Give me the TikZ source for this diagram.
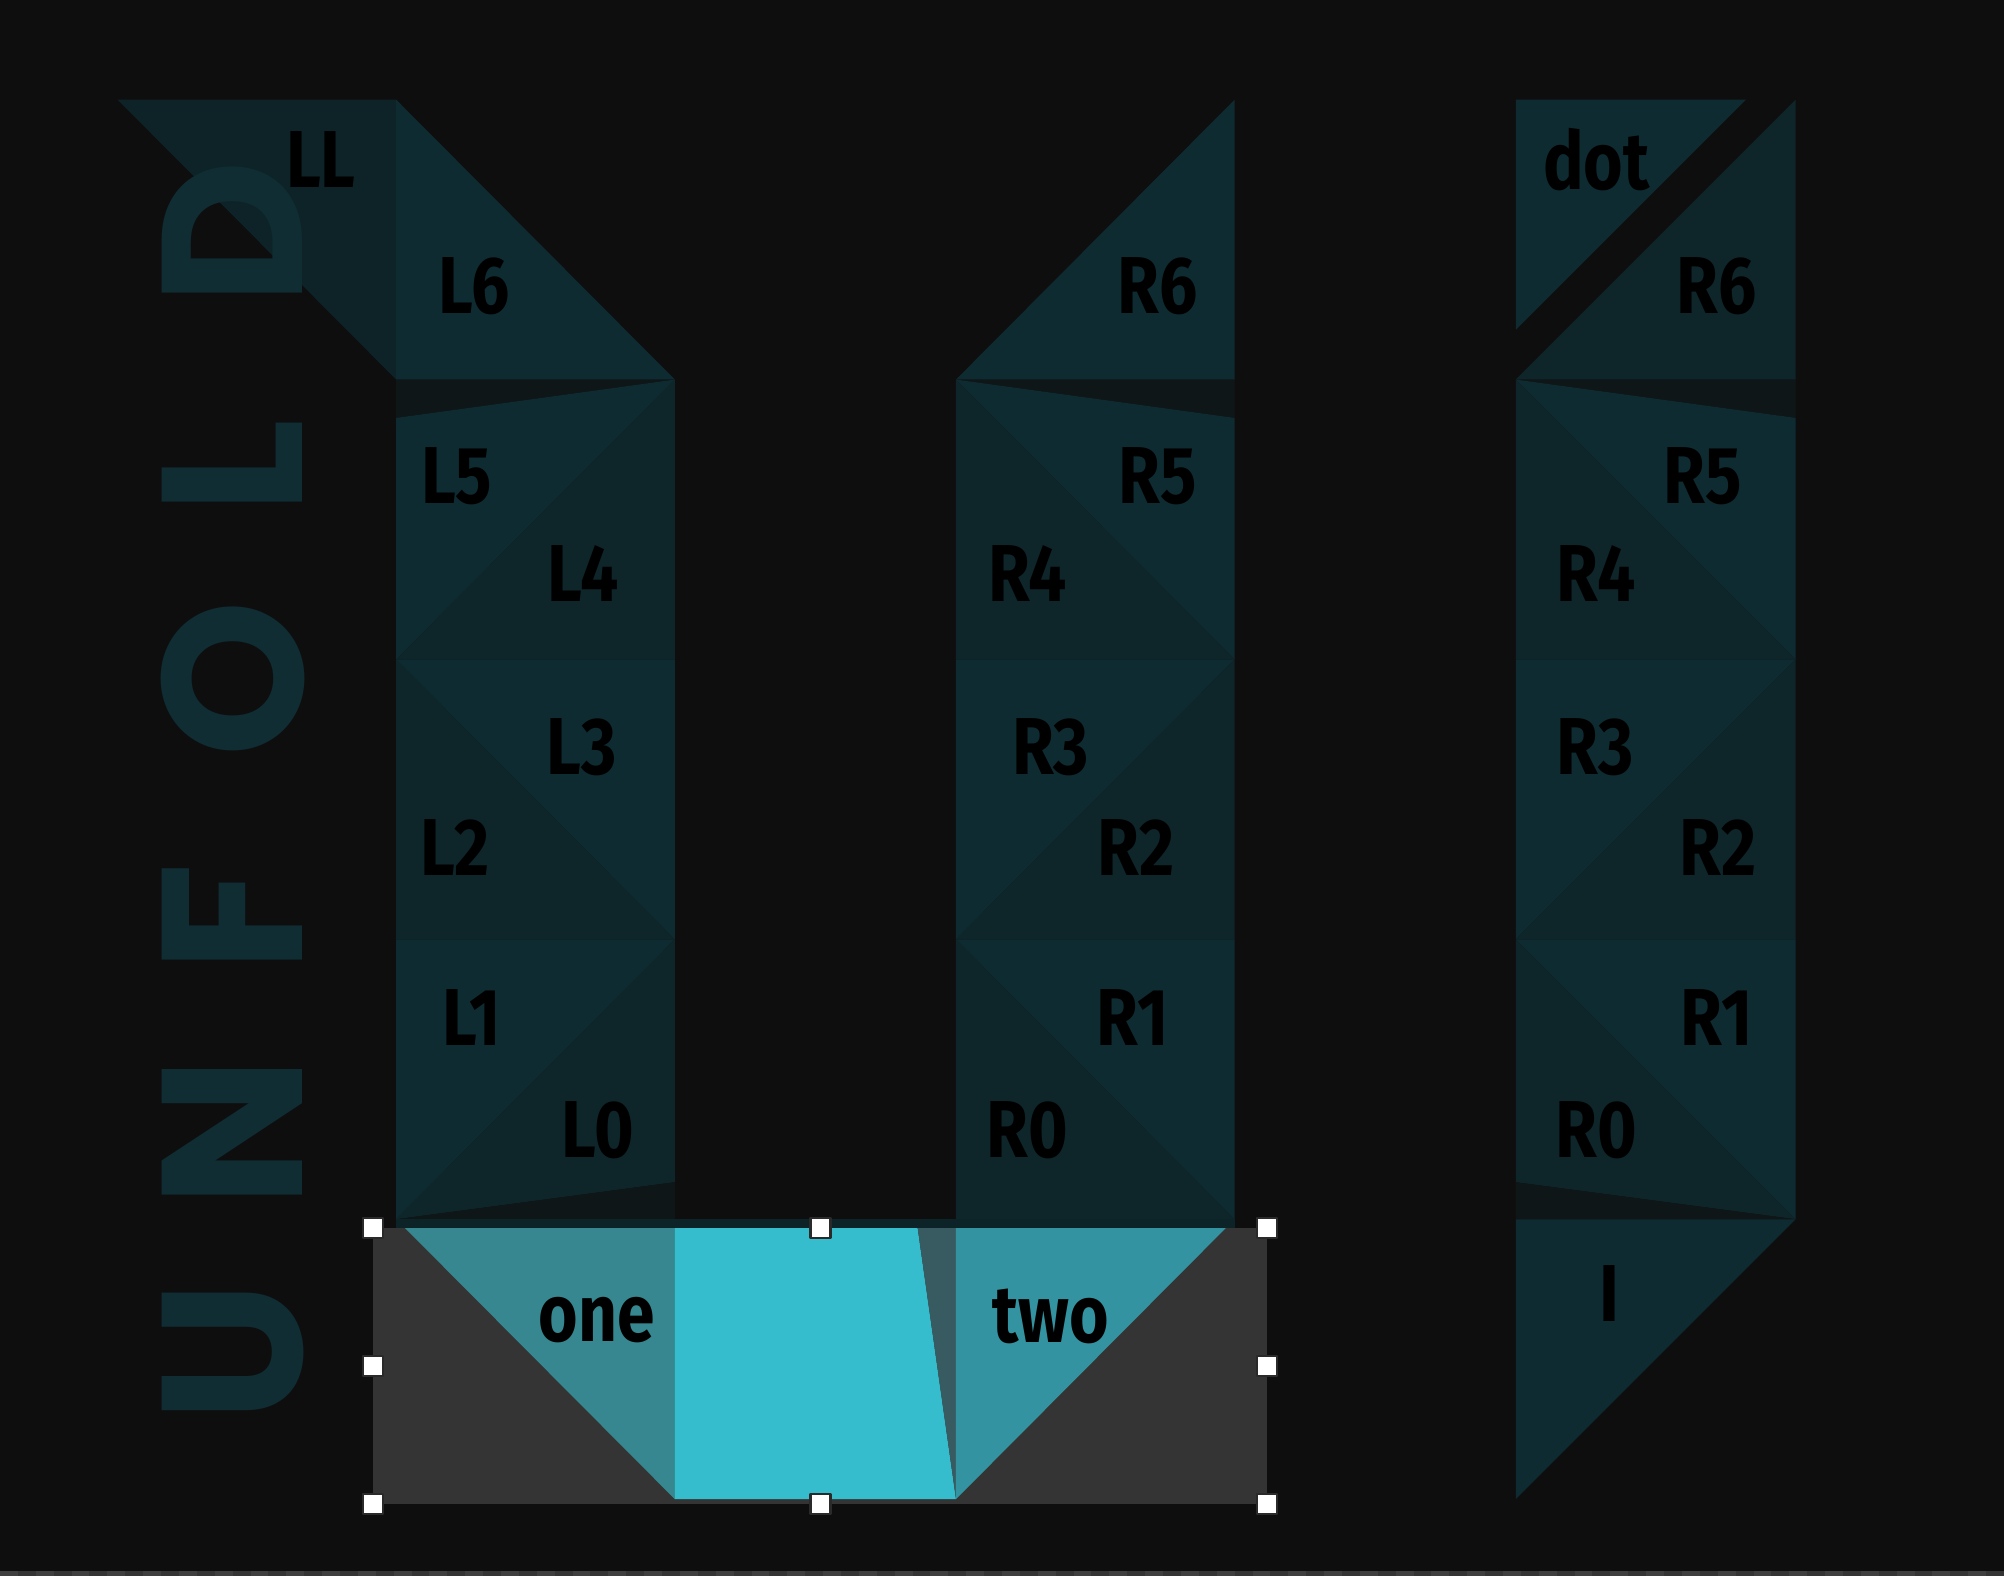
\documentclass[tikz,border=0pt]{standalone}
\usepackage{fontspec}
\setmainfont{Fira Sans}[FakeStretch=0.84]
\newfontfamily\bannerfont{Poppins}

\definecolor{ink}{HTML}{0E0E0E}
\definecolor{tealpale}{HTML}{0E2B31}
\definecolor{tealdeep}{HTML}{0E252A}
\definecolor{tealdim}{HTML}{0D2327}
\definecolor{tealgap}{HTML}{0E1618}
\definecolor{banner}{HTML}{0F2D33}
\definecolor{panel}{HTML}{343434}
\definecolor{seam}{HTML}{0C2428}
\definecolor{onefill}{HTML}{36878F}
\definecolor{twofill}{HTML}{3393A0}
\definecolor{cyan}{HTML}{35BCCD}
\definecolor{sliver}{HTML}{375B60}
\definecolor{grip}{HTML}{2A2A2A}
\definecolor{checker}{HTML}{3F3F3F}

\begin{document}
\begin{tikzpicture}[
				x = 0.0128cm, % one pixel of the mock-up
				y = -0.0128cm, % pixels count downwards
				font = \bfseries\fontsize{23}{23}\selectfont,
				line join = round
				]
				
				\tikzstyle{pale}=[fill = tealpale]
				\tikzstyle{deep}=[fill = tealdeep]
				\tikzstyle{gap}=[fill = tealgap]
				\tikzstyle{tag}=[text = black, inner sep = 0pt]
				\tikzstyle{letter}=[text = banner, inner sep = 0pt, rotate = 90,
				font = \bannerfont\bfseries\fontsize{57}{57}\selectfont]
				\tikzstyle{handle}=[draw = grip, line width = 0.6pt, fill = white,
				minimum size = 0.2cm, inner sep = 0pt]
				
				\useasboundingbox (0,0) rectangle (1568,1233);
				\fill[ink] (0,0) rectangle (1568,1233);
				
				% checkered strip along the bottom
				\fill[panel] (0,1229) rectangle (1568,1233);
				\foreach \i in {0,...,55}
					\fill[checker] (\i*28,1229) rectangle +(14,4);
				
				% left column
				\fill[tealdim] (92,78) -- (310,78) -- (310,297) -- cycle;
				\fill[pale] (310,78) -- (528,297) -- (310,297) -- cycle;
				\fill[gap] (310,297) -- (528,297) -- (310,327) -- cycle;
				\fill[pale] (310,327) -- (528,297) -- (310,516) -- cycle;
				\fill[deep] (528,297) -- (528,516) -- (310,516) -- cycle;
				\fill[pale] (310,516) -- (528,516) -- (528,735) -- cycle;
				\fill[deep] (310,516) -- (528,735) -- (310,735) -- cycle;
				\fill[pale] (310,735) -- (528,735) -- (310,954) -- cycle;
				\fill[deep] (528,735) -- (528,925) -- (310,954) -- cycle;
				\fill[gap] (310,954) -- (528,925) -- (528,954) -- cycle;
				
				% middle column
				\fill[pale] (966,78) -- (966,297) -- (748,297) -- cycle;
				\fill[gap] (748,297) -- (966,297) -- (966,327) -- cycle;
				\fill[pale] (748,297) -- (966,327) -- (966,516) -- cycle;
				\fill[deep] (748,297) -- (966,516) -- (748,516) -- cycle;
				\fill[pale] (748,516) -- (966,516) -- (748,735) -- cycle;
				\fill[deep] (966,516) -- (966,735) -- (748,735) -- cycle;
				\fill[pale] (748,735) -- (966,735) -- (966,954) -- cycle;
				\fill[deep] (748,735) -- (966,954) -- (748,954) -- cycle;
				
				% right column
				\fill[pale] (1186,78) -- (1366,78) -- (1186,258) -- cycle;
				\fill[deep] (1405,78) -- (1405,297) -- (1186,297) -- cycle;
				\fill[gap] (1186,297) -- (1405,297) -- (1405,327) -- cycle;
				\fill[pale] (1186,297) -- (1405,327) -- (1405,516) -- cycle;
				\fill[deep] (1186,297) -- (1405,516) -- (1186,516) -- cycle;
				\fill[pale] (1186,516) -- (1405,516) -- (1186,735) -- cycle;
				\fill[deep] (1405,516) -- (1405,735) -- (1186,735) -- cycle;
				\fill[pale] (1186,735) -- (1405,735) -- (1405,954) -- cycle;
				\fill[deep] (1186,735) -- (1405,954) -- (1186,925) -- cycle;
				\fill[gap] (1186,925) -- (1405,954) -- (1186,954) -- cycle;
				\fill[pale] (1186,954) -- (1405,954) -- (1186,1173) -- cycle;
				
				% banner letters
				\foreach \ch/\yy in {U/1058, N/886, F/718, O/531, L/365, D/182}
					\node[letter] (banner\ch) at (182,\yy) {\ch};
				
				% selected piece at the bottom
				\fill[panel] (292,961) rectangle (991,1177);
				\fill[seam] (310,954) rectangle (966,961);
				\fill[onefill] (317,961) -- (528,961) -- (528,1173) -- cycle;
				\fill[cyan] (528,961) -- (718,961) -- (748,1173) -- (528,1173) -- cycle;
				\fill[sliver] (718,961) -- (748,961) -- (748,1173) -- cycle;
				\fill[twofill] (748,961) -- (959,961) -- (748,1173) -- cycle;
				
				\foreach \hx/\hy [count=\k] in {292/961, 642/961, 991/961, 292/1069,
					991/1069, 292/1177, 642/1177, 991/1177}
					\node[handle] (grip\k) at (\hx,\hy) {};
				
				% labels
				\node[tag] (ll) at (251,125) {LL};
				\node[tag] (l6) at (371,224) {L6};
				\node[tag] (l5) at (357,373) {L5};
				\node[tag] (l4) at (456,449) {L4};
				\node[tag] (l3) at (455,585) {L3};
				\node[tag] (l2) at (356,663) {L2};
				\node[tag] (l1) at (369,796) {L1};
				\node[tag] (l0) at (468,884) {L0};
				
				\node[tag] (r6) at (906,224) {R6};
				\node[tag] (r5) at (906,373) {R5};
				\node[tag] (r4) at (804,449) {R4};
				\node[tag] (r3) at (822,585) {R3};
				\node[tag] (r2) at (889,663) {R2};
				\node[tag] (r1) at (886,796) {R1};
				\node[tag] (r0) at (804,884) {R0};
				
				\node[tag] (dot) at (1249,125) {dot};
				\node[tag] (rr6) at (1343,224) {R6};
				\node[tag] (rr5) at (1332,373) {R5};
				\node[tag] (rr4) at (1249,449) {R4};
				\node[tag] (rr3) at (1248,585) {R3};
				\node[tag] (rr2) at (1344,663) {R2};
				\node[tag] (rr1) at (1343,796) {R1};
				\node[tag] (rr0) at (1249,884) {R0};
				\node[tag] (eye) at (1259,1012) {I};
				
				\node[tag] (one) at (467,1033) {one};
				\node[tag] (two) at (822,1030) {two};
			\end{tikzpicture}
\end{document}
